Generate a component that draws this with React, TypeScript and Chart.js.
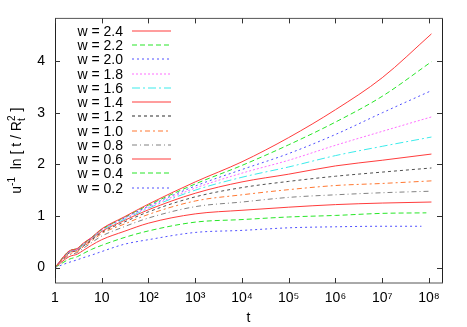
import React, { useEffect, useRef } from "react";
import { Chart, registerables } from "chart.js";

Chart.register(...registerables);

// ---- data ----
const tGrid = [1, 2, 3, 4, 6, 10, 30, 100, 1e3, 1e4, 1e5, 1e6, 1e7];
const wLabels = ["2.4", "2.2", "2.0", "1.8", "1.6", "1.4", "1.2", "1.0", "0.8", "0.6", "0.4", "0.2"];
const tEnd = [1.13e8, 1.13e8, 1.13e8, 1.13e8, 1.13e8, 1.13e8, 1.13e8, 1.13e8, 1.13e8, 1.13e8, 8.8e7, 6.9e7];

const w24 = [0, 0.32, 0.37, 0.47, 0.58, 0.75, 0.98, 1.23, 1.66, 2.05, 2.52, 3.06, 3.68, 4.53];
const w22 = [0, 0.32, 0.37, 0.46, 0.58, 0.74, 0.97, 1.21, 1.62, 1.98, 2.38, 2.82, 3.32, 3.99];
const w20 = [0, 0.31, 0.36, 0.46, 0.57, 0.74, 0.96, 1.19, 1.58, 1.9, 2.21, 2.58, 3.0, 3.43];
const w18 = [0, 0.31, 0.36, 0.45, 0.57, 0.73, 0.95, 1.17, 1.54, 1.83, 2.08, 2.37, 2.64, 2.92];
const w16 = [0, 0.3, 0.35, 0.44, 0.56, 0.72, 0.93, 1.15, 1.5, 1.75, 1.95, 2.17, 2.35, 2.53];
const w14 = [0, 0.29, 0.34, 0.43, 0.55, 0.7, 0.91, 1.12, 1.44, 1.66, 1.81, 1.97, 2.08, 2.2];
const w12 = [0, 0.28, 0.33, 0.41, 0.53, 0.68, 0.88, 1.08, 1.37, 1.55, 1.67, 1.77, 1.85, 1.93];
const w10 = [0, 0.26, 0.31, 0.4, 0.51, 0.66, 0.84, 1.03, 1.29, 1.41, 1.51, 1.59, 1.63, 1.68];
const w08 = [0, 0.24, 0.29, 0.37, 0.48, 0.61, 0.79, 0.96, 1.18, 1.27, 1.36, 1.41, 1.45, 1.48];
const w06 = [0, 0.21, 0.26, 0.33, 0.43, 0.54, 0.7, 0.86, 1.04, 1.11, 1.17, 1.22, 1.25, 1.27];
const w04 = [0, 0.16, 0.21, 0.27, 0.35, 0.43, 0.58, 0.71, 0.88, 0.93, 0.98, 1.01, 1.05, 1.06];
const w02 = [0, 0.1, 0.15, 0.19, 0.24, 0.31, 0.45, 0.54, 0.68, 0.72, 0.77, 0.79, 0.8, 0.8];

const seriesValues = [w24, w22, w20, w18, w16, w14, w12, w10, w08, w06, w04, w02];

const xTickValues = [1, 10, 1e2, 1e3, 1e4, 1e5, 1e6, 1e7, 1e8];
const xTickLabels = ["1", "10", "10²", "10³", "10⁴", "10⁵", "10⁶", "10⁷", "10⁸"];
const yTickValues = [0, 1, 2, 3, 4];
const yTickLabels = ["0", "1", "2", "3", "4"];

// ---- styles ----
const RED = "rgb(255,60,60)";
const GREEN = "rgb(40,230,40)";
const BLUE = "rgb(80,80,255)";
const MAGENTA = "rgb(255,110,255)";
const CYAN = "rgb(60,235,235)";
const DGRAY = "rgb(80,80,80)";
const ORANGE = "rgb(255,120,50)";
const LGRAY = "rgb(130,130,130)";
const seriesColors = [RED, GREEN, BLUE, MAGENTA, CYAN, RED, DGRAY, ORANGE, LGRAY, RED, GREEN, BLUE];
const seriesDash: number[][] = [
  [], [5, 3], [2, 3], [2, 2], [8, 3, 2, 3], [], [3, 3], [5, 3, 2, 3], [5, 3, 1, 3], [], [5, 3], [2, 3],
];

const FONT = '"Liberation Sans", Arial, Helvetica, sans-serif';

const framePlugin = {
  id: "frame",
  afterDraw(chart: any) {
    const ctx = chart.ctx;
    const { left, right, top, bottom } = chart.chartArea;
    const xs = chart.scales.x;
    const ys = chart.scales.y;
    ctx.save();
    ctx.strokeStyle = "#222";
    ctx.lineWidth = 1;
    ctx.setLineDash([]);
    // left/right crisp, top/bottom soft (as in the reference)
    ctx.beginPath();
    ctx.moveTo(left + 0.5, top);
    ctx.lineTo(left + 0.5, bottom);
    ctx.moveTo(right + 0.5, top);
    ctx.lineTo(right + 0.5, bottom);
    ctx.stroke();
    ctx.strokeStyle = "#555";
    ctx.beginPath();
    ctx.moveTo(left, top);
    ctx.lineTo(right + 1, top);
    ctx.moveTo(left, bottom);
    ctx.lineTo(right + 1, bottom);
    ctx.stroke();
    const tl = 5;
    ctx.strokeStyle = "#333";
    ctx.beginPath();
    xTickValues.forEach((v) => {
      const px = Math.round(xs.getPixelForValue(v)) + 0.5;
      ctx.moveTo(px, bottom);
      ctx.lineTo(px, bottom - tl);
      ctx.moveTo(px, top);
      ctx.lineTo(px, top + tl);
    });
    yTickValues.forEach((v) => {
      const py = Math.round(ys.getPixelForValue(v)) + 0.5;
      ctx.moveTo(left, py);
      ctx.lineTo(left + tl, py);
      ctx.moveTo(right, py);
      ctx.lineTo(right - tl, py);
    });
    ctx.stroke();

    // legend
    ctx.font = `14px ${FONT}`;
    ctx.textAlign = "right";
    ctx.textBaseline = "middle";
    chart.data.datasets.forEach((ds: any, i: number) => {
      const y = Math.round(top + 12.3 + i * 14.27);
      ctx.fillStyle = "#000";
      ctx.fillText(ds.label, left + 68, y + 1);
      ctx.strokeStyle = ds.borderColor;
      ctx.lineWidth = 1.2;
      ctx.setLineDash(ds.borderDash || []);
      ctx.beginPath();
      ctx.moveTo(left + 77, y);
      ctx.lineTo(left + 116, y);
      ctx.stroke();
    });
    ctx.setLineDash([]);
    ctx.lineWidth = 1;

    // y-axis title with super/subscripts
    const cy = (top + bottom) / 2;
    ctx.translate(21, cy);
    ctx.rotate(-Math.PI / 2);
    ctx.textAlign = "left";
    ctx.textBaseline = "alphabetic";
    ctx.fillStyle = "#000";
    const big = `14px ${FONT}`;
    const small = `10px ${FONT}`;
    const segs: any[] = [
      { t: "u", f: big, dy: 0 },
      { t: "-1", f: small, dy: -6 },
      { t: "  ln [ t / R", f: big, dy: 0 },
      { stack: true, sub: "t", sup: "2" },
      { t: " ]", f: big, dy: 0 },
    ];
    let total = 0;
    const widths = segs.map((s) => {
      let w;
      if (s.stack) {
        ctx.font = small;
        w = Math.max(ctx.measureText(s.sub).width, ctx.measureText(s.sup).width);
      } else {
        ctx.font = s.f;
        w = ctx.measureText(s.t).width;
      }
      total += w;
      return w;
    });
    let x = -total / 2;
    segs.forEach((s, i) => {
      if (s.stack) {
        ctx.font = small;
        ctx.fillText(s.sub, x, 4);
        ctx.fillText(s.sup, x, -6);
      } else {
        ctx.font = s.f;
        ctx.fillText(s.t, x, s.dy);
      }
      x += widths[i];
    });
    ctx.restore();
  },
};

export default function App() {
  const ref = useRef<HTMLCanvasElement>(null);
  useEffect(() => {
    if (!ref.current) return;
    const datasets = seriesValues.map((vals, i) => {
      const ts = [...tGrid, tEnd[i]];
      return {
        label: `w = ${wLabels[i]}`,
        data: vals.map((v, j) => ({ x: ts[j], y: v })),
        borderColor: seriesColors[i],
        borderDash: seriesDash[i],
        borderWidth: 1,
        pointRadius: 0,
        fill: false,
        cubicInterpolationMode: "monotone" as const,
      };
    });
    const chart = new Chart(ref.current, {
      type: "line",
      data: { datasets },
      options: {
        responsive: false,
        animation: false,
        devicePixelRatio: 1,
        layout: { padding: { top: 16, right: 25, left: 0, bottom: 0 } },
        plugins: { legend: { display: false }, tooltip: { enabled: false } },
        scales: {
          x: {
            type: "logarithmic",
            min: 1,
            max: 1.9e8,
            afterFit: (s: any) => {
              s.height = 44;
            },
            afterBuildTicks: (s: any) => {
              s.ticks = xTickValues.map((v) => ({ value: v }));
            },
            ticks: {
              autoSkip: false,
              maxRotation: 0,
              padding: 7,
              color: "#000",
              font: { family: FONT, size: 14 },
              callback: (v: any) => {
                const k = xTickValues.indexOf(Number(v));
                return k >= 0 ? xTickLabels[k] : "";
              },
            },
            grid: { display: false, drawTicks: false, tickLength: 0 },
            border: { display: false },
            title: {
              display: true,
              text: "t",
              color: "#000",
              font: { family: FONT, size: 14 },
              padding: { top: 0, bottom: 0 },
            },
          },
          y: {
            type: "linear",
            min: -0.3,
            max: 4.83,
            afterFit: (s: any) => {
              s.width = 55;
            },
            afterBuildTicks: (s: any) => {
              s.ticks = yTickValues.map((v) => ({ value: v }));
            },
            ticks: {
              padding: 10,
              color: "#000",
              font: { family: FONT, size: 14 },
              callback: (v: any) => {
                const k = yTickValues.indexOf(Number(v));
                return k >= 0 ? yTickLabels[k] : "";
              },
            },
            grid: { display: false, drawTicks: false, tickLength: 0 },
            border: { display: false },
          },
        },
      },
      plugins: [framePlugin],
    });
    return () => chart.destroy();
  }, []);
  return (
    <div style={{ position: "fixed", left: 0, top: 0, width: 467, height: 327, background: "#fff" }}>
      <canvas ref={ref} width={467} height={327} style={{ display: "block" }} />
    </div>
  );
}
